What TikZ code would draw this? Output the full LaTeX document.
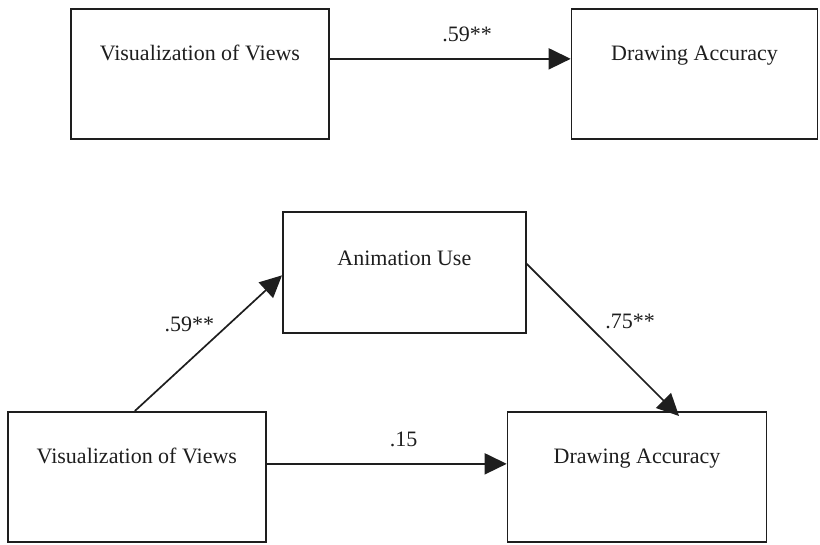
\documentclass[tikz,border=0pt]{standalone}
\usepackage{fontspec}
\setmainfont{Liberation Serif}
\usepackage{tikz}
\usetikzlibrary{arrows.meta,positioning}
\definecolor{ink}{RGB}{30, 30, 30}
\tikzstyle{box} = [rectangle, draw=ink, line width=1.7pt, text=ink, inner sep=0pt, minimum width=258pt, text height=52pt, text depth=78pt, font=\fontsize{22}{26}\selectfont]
\tikzstyle{midbox} = [box, minimum width=243pt, text height=54pt, text depth=67pt]
\tikzstyle{textonly} = [draw=none, fill=none, text=ink, inner sep=2pt, font=\fontsize{22}{26}\selectfont]
\tikzstyle{tedge}  = [draw=ink, line width=1.7pt, -{Triangle[length=22pt, width=21pt]}]

\begin{document}
\begin{tikzpicture}[auto]
\useasboundingbox (0pt,0pt) rectangle (820pt,-545pt);

% direct effect =============================
\node[box, anchor=north west] (viz1) at (70pt,-8pt) {Visualization of Views};
\node[box, minimum width=246pt, right=241pt of viz1] (acc1) {Drawing Accuracy};

% mediation model
\node[box, anchor=north west] (viz2) at (7pt,-411pt) {Visualization of Views};
\node[box, minimum width=259pt, right=240pt of viz2] (acc2) {Drawing Accuracy};
\node[midbox, anchor=north west] (anim) at (282pt,-211pt) {Animation Use};

% edges
\path[tedge] ([yshift=2pt]viz1.base east) -- node[textonly, pos=0.57, above=14pt] (c1) {.59**} ([yshift=2pt]acc1.base west);
\path[tedge] ([xshift=-2pt]viz2.north) -- node[textonly, pos=0.64, left=12pt] (a2) {.59**} ([yshift=-3pt]anim.west);
\path[tedge] ([yshift=2pt]anim.base east) -- node[textonly, pos=0.38, right=18pt] (b2) {.75**} ([xshift=42pt, yshift=-5pt]acc2.north);
\path[tedge] (viz2.base east) -- node[textonly, pos=0.57, above=14pt] (c2) {.15} (acc2.base west);

\end{tikzpicture}
\end{document}
